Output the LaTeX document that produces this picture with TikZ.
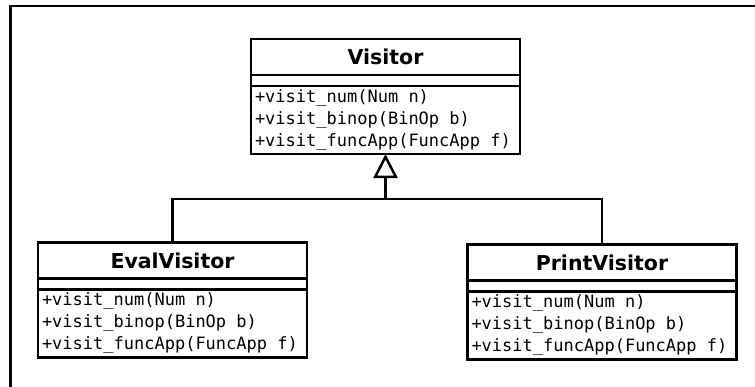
\documentclass[tikz,border=0pt]{standalone}
\usepackage{fontspec}
\setmainfont{DejaVu Sans}
\setmonofont{DejaVu Sans Mono}
\usetikzlibrary{positioning}
\usetikzlibrary{arrows.meta}

\newcommand{\visitops}{\spaceskip=0pt\xspaceskip=0pt%
+visit\_num(Num n)\\+visit\_binop(BinOp b)\\+visit\_funcApp(FuncApp f)}

\tikzset{
  umlbox/.style={draw, line width=2.5pt, outer sep=0pt, minimum width=269pt},
  classname/.style={umlbox, minimum height=36pt, font=\fontsize{20.5}{24}\selectfont\bfseries},
  classattr/.style={umlbox, minimum height=11pt, inner sep=0pt},
  classops/.style={umlbox, minimum height=68pt, inner xsep=4pt, inner ysep=2pt, text width=261pt, align=left, font=\ttfamily\fontsize{17}{22}\selectfont},
  inherit/.style={line width=2.5pt, -{Triangle[open, length=24pt, width=24pt]}},
  link/.style={line width=2.5pt},
}

\begin{document}
\begin{tikzpicture}[x=1pt, y=-1pt]
		\useasboundingbox (0,0) rectangle (755,386);
		\clip (0,0) rectangle (755,386);
		\draw [line width=2.75pt] (10.5,6) rectangle (780,400);
		% base class
		\node [classname] (visitor) at (385.5,57) {Visitor};
		\node [classattr, below=0pt of visitor] (visitor-attr) {};
		\node [classops, below=0pt of visitor-attr] (visitor-ops) {\visitops};
		% subclasses
		\node [classname] (eval) at (172.5,260.5) {EvalVisitor};
		\node [classattr, below=0pt of eval] (eval-attr) {};
		\node [classops, below=0pt of eval-attr] (eval-ops) {\visitops};
		\node [classname] (print) at (602,262.5) {PrintVisitor};
		\node [classattr, below=0pt of print] (print-attr) {};
		\node [classops, below=0pt of print-attr] (print-ops) {\visitops};
		% generalization
		\coordinate (join) at ([yshift=-45pt]visitor-ops.south);
		\draw [link] (eval.north) |- (join) -| (print.north);
		\draw [inherit] (join) -- (visitor-ops.south);
	\end{tikzpicture}
\end{document}
